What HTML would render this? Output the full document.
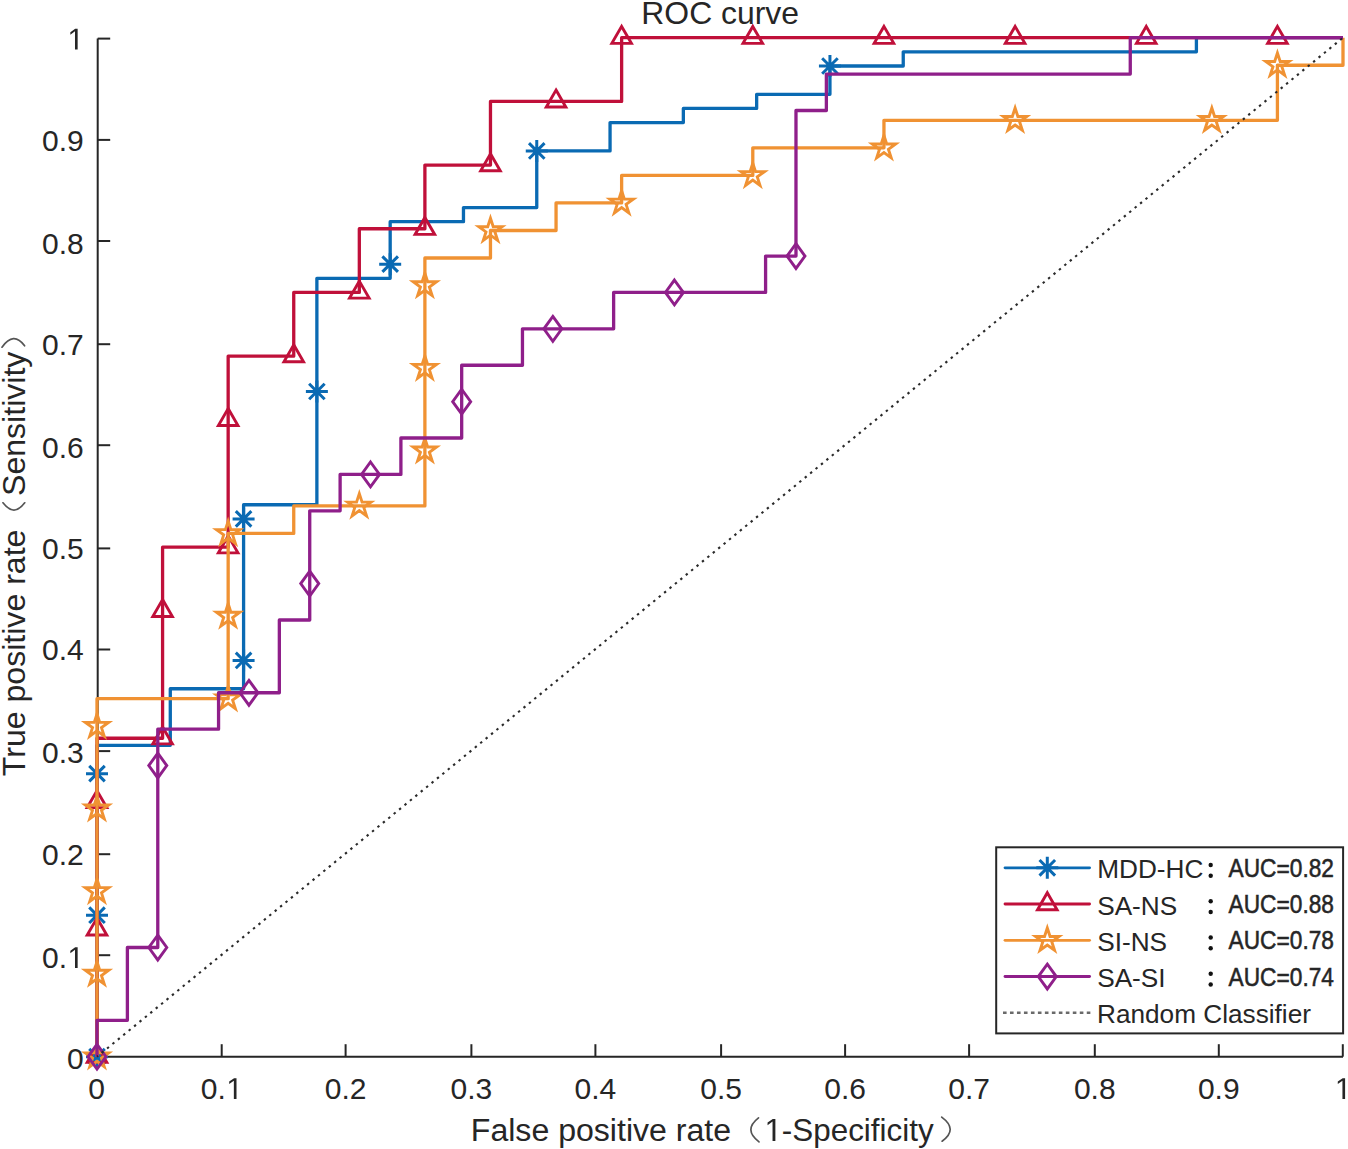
<!DOCTYPE html>
<html><head><meta charset="utf-8"><title>ROC curve</title>
<style>
html,body{margin:0;padding:0;background:#fff;}
body{width:1348px;height:1149px;overflow:hidden;}
svg{display:block;}
text{font-family:"Liberation Sans",sans-serif;fill:#262626;}
</style></head><body>
<svg width="1348" height="1149" viewBox="0 0 1348 1149">
<rect x="0" y="0" width="1348" height="1149" fill="#fff"/>
<g>

<g stroke="#262626" stroke-width="2" fill="none">
<path d="M97.7 38.6V1056.7H1343.0"/>
<path d="M97.7 955.2h12.5"/>
<path d="M97.7 854.2h12.5"/>
<path d="M97.7 751.1h12.5"/>
<path d="M97.7 649.5h12.5"/>
<path d="M97.7 548.4h12.5"/>
<path d="M97.7 445.2h12.5"/>
<path d="M97.7 344.2h12.5"/>
<path d="M97.7 241.0h12.5"/>
<path d="M97.7 139.9h12.5"/>
<path d="M97.7 38.6h12.5"/>
<path d="M221.7 1056.7v-12.5"/>
<path d="M345.6 1056.7v-12.5"/>
<path d="M471.4 1056.7v-12.5"/>
<path d="M595.4 1056.7v-12.5"/>
<path d="M721.1 1056.7v-12.5"/>
<path d="M845.1 1056.7v-12.5"/>
<path d="M969.1 1056.7v-12.5"/>
<path d="M1094.8 1056.7v-12.5"/>
<path d="M1218.8 1056.7v-12.5"/>
<path d="M1342.8 1056.7v-12.5"/>
</g>
<text x="83.7" y="1069.1" font-size="30.0" text-anchor="end">0</text>
<text x="67.02" y="967.9" font-size="30.0" text-anchor="end">0.</text>
<path d="M515 0L515 1237L197 1010L197 1180L530 1409L696 1409L696 0Z" fill="#262626" transform="translate(67.45 967.93) scale(0.01465 -0.01465)"/>
<text x="83.7" y="865.2" font-size="30.0" text-anchor="end">0.2</text>
<text x="83.7" y="763.4" font-size="30.0" text-anchor="end">0.3</text>
<text x="83.7" y="660.3" font-size="30.0" text-anchor="end">0.4</text>
<text x="83.7" y="559.3" font-size="30.0" text-anchor="end">0.5</text>
<text x="83.7" y="458.0" font-size="30.0" text-anchor="end">0.6</text>
<text x="83.7" y="354.9" font-size="30.0" text-anchor="end">0.7</text>
<text x="83.7" y="253.8" font-size="30.0" text-anchor="end">0.8</text>
<text x="83.7" y="150.7" font-size="30.0" text-anchor="end">0.9</text>
<path d="M515 0L515 1237L197 1010L197 1180L530 1409L696 1409L696 0Z" fill="#262626" transform="translate(67.45 49.48) scale(0.01465 -0.01465)"/>
<text x="96.6" y="1098.9" font-size="30.0" text-anchor="middle">0</text>
<text x="200.85" y="1098.9" font-size="30.0">0.</text>
<path d="M515 0L515 1237L197 1010L197 1180L530 1409L696 1409L696 0Z" fill="#262626" transform="translate(226.31 1098.90) scale(0.01465 -0.01465)"/>
<text x="345.6" y="1098.9" font-size="30.0" text-anchor="middle">0.2</text>
<text x="471.4" y="1098.9" font-size="30.0" text-anchor="middle">0.3</text>
<text x="595.4" y="1098.9" font-size="30.0" text-anchor="middle">0.4</text>
<text x="721.1" y="1098.9" font-size="30.0" text-anchor="middle">0.5</text>
<text x="845.1" y="1098.9" font-size="30.0" text-anchor="middle">0.6</text>
<text x="969.1" y="1098.9" font-size="30.0" text-anchor="middle">0.7</text>
<text x="1094.8" y="1098.9" font-size="30.0" text-anchor="middle">0.8</text>
<text x="1218.8" y="1098.9" font-size="30.0" text-anchor="middle">0.9</text>
<path d="M515 0L515 1237L197 1010L197 1180L530 1409L696 1409L696 0Z" fill="#262626" transform="translate(1334.90 1098.90) scale(0.01465 -0.01465)"/>
<path d="M97.00 1056.70 L97.00 745.34 L170.29 745.34 L170.29 688.73 L243.59 688.73 L243.59 504.74 L316.88 504.74 L316.88 278.30 L390.18 278.30 L390.18 221.69 L463.47 221.69 L463.47 207.53 L536.76 207.53 L536.76 150.92 L610.06 150.92 L610.06 122.62 L683.35 122.62 L683.35 108.46 L756.65 108.46 L756.65 94.31 L829.94 94.31 L829.94 66.01 L903.24 66.01 L903.24 51.85 L1196.41 51.85 L1196.41 37.70 L1343.00 37.70" stroke="#0a6ab3" stroke-width="3.3" fill="none" stroke-linejoin="round"/>
<path d="M86.00 1056.70H108.00M97.00 1045.70V1067.70M89.22 1048.92L104.78 1064.48M89.22 1064.48L104.78 1048.92" stroke="#0a6ab3" stroke-width="3.0" fill="none"/>
<path d="M86.00 915.17H108.00M97.00 904.17V926.17M89.22 907.39L104.78 922.95M89.22 922.95L104.78 907.39" stroke="#0a6ab3" stroke-width="3.0" fill="none"/>
<path d="M86.00 773.64H108.00M97.00 762.64V784.64M89.22 765.87L104.78 781.42M89.22 781.42L104.78 765.87" stroke="#0a6ab3" stroke-width="3.0" fill="none"/>
<path d="M232.59 660.42H254.59M243.59 649.42V671.42M235.81 652.64L251.37 668.20M235.81 668.20L251.37 652.64" stroke="#0a6ab3" stroke-width="3.0" fill="none"/>
<path d="M232.59 518.89H254.59M243.59 507.89V529.89M235.81 511.12L251.37 526.67M235.81 526.67L251.37 511.12" stroke="#0a6ab3" stroke-width="3.0" fill="none"/>
<path d="M305.88 391.52H327.88M316.88 380.52V402.52M309.10 383.74L324.66 399.30M309.10 399.30L324.66 383.74" stroke="#0a6ab3" stroke-width="3.0" fill="none"/>
<path d="M379.18 264.14H401.18M390.18 253.14V275.14M382.40 256.37L397.95 271.92M382.40 271.92L397.95 256.37" stroke="#0a6ab3" stroke-width="3.0" fill="none"/>
<path d="M525.76 150.92H547.76M536.76 139.92V161.92M528.99 143.14L544.54 158.70M528.99 158.70L544.54 143.14" stroke="#0a6ab3" stroke-width="3.0" fill="none"/>
<path d="M818.94 66.01H840.94M829.94 55.01V77.01M822.16 58.23L837.72 73.78M822.16 73.78L837.72 58.23" stroke="#0a6ab3" stroke-width="3.0" fill="none"/>
<path d="M97.00 1056.70 L97.00 738.26 L162.58 738.26 L162.58 547.20 L228.16 547.20 L228.16 356.14 L293.74 356.14 L293.74 292.45 L359.32 292.45 L359.32 228.76 L424.89 228.76 L424.89 165.08 L490.47 165.08 L490.47 101.39 L621.63 101.39 L621.63 37.70 L1343.00 37.70" stroke="#c0103a" stroke-width="3.3" fill="none" stroke-linejoin="round"/>
<polygon points="97.00,1045.40 106.79,1062.35 87.21,1062.35" stroke="#c0103a" stroke-width="2.9" fill="none" stroke-miterlimit="10"/>
<polygon points="97.00,918.03 106.79,934.98 87.21,934.98" stroke="#c0103a" stroke-width="2.9" fill="none" stroke-miterlimit="10"/>
<polygon points="97.00,790.65 106.79,807.60 87.21,807.60" stroke="#c0103a" stroke-width="2.9" fill="none" stroke-miterlimit="10"/>
<polygon points="162.58,726.96 172.36,743.91 152.79,743.91" stroke="#c0103a" stroke-width="2.9" fill="none" stroke-miterlimit="10"/>
<polygon points="162.58,599.59 172.36,616.54 152.79,616.54" stroke="#c0103a" stroke-width="2.9" fill="none" stroke-miterlimit="10"/>
<polygon points="228.16,535.90 237.94,552.85 218.37,552.85" stroke="#c0103a" stroke-width="2.9" fill="none" stroke-miterlimit="10"/>
<polygon points="228.16,408.53 237.94,425.48 218.37,425.48" stroke="#c0103a" stroke-width="2.9" fill="none" stroke-miterlimit="10"/>
<polygon points="293.74,344.84 303.52,361.79 283.95,361.79" stroke="#c0103a" stroke-width="2.9" fill="none" stroke-miterlimit="10"/>
<polygon points="359.32,281.15 369.10,298.10 349.53,298.10" stroke="#c0103a" stroke-width="2.9" fill="none" stroke-miterlimit="10"/>
<polygon points="424.89,217.46 434.68,234.41 415.11,234.41" stroke="#c0103a" stroke-width="2.9" fill="none" stroke-miterlimit="10"/>
<polygon points="490.47,153.78 500.26,170.73 480.69,170.73" stroke="#c0103a" stroke-width="2.9" fill="none" stroke-miterlimit="10"/>
<polygon points="556.05,90.09 565.84,107.04 546.27,107.04" stroke="#c0103a" stroke-width="2.9" fill="none" stroke-miterlimit="10"/>
<polygon points="621.63,26.40 631.42,43.35 611.85,43.35" stroke="#c0103a" stroke-width="2.9" fill="none" stroke-miterlimit="10"/>
<polygon points="752.79,26.40 762.58,43.35 743.00,43.35" stroke="#c0103a" stroke-width="2.9" fill="none" stroke-miterlimit="10"/>
<polygon points="883.95,26.40 893.73,43.35 874.16,43.35" stroke="#c0103a" stroke-width="2.9" fill="none" stroke-miterlimit="10"/>
<polygon points="1015.11,26.40 1024.89,43.35 1005.32,43.35" stroke="#c0103a" stroke-width="2.9" fill="none" stroke-miterlimit="10"/>
<polygon points="1146.26,26.40 1156.05,43.35 1136.48,43.35" stroke="#c0103a" stroke-width="2.9" fill="none" stroke-miterlimit="10"/>
<polygon points="1277.42,26.40 1287.21,43.35 1267.64,43.35" stroke="#c0103a" stroke-width="2.9" fill="none" stroke-miterlimit="10"/>
<path d="M97.00 1056.70 L97.00 698.67 L228.16 698.67 L228.16 533.43 L293.74 533.43 L293.74 505.89 L424.89 505.89 L424.89 258.02 L490.47 258.02 L490.47 230.48 L556.05 230.48 L556.05 202.94 L621.63 202.94 L621.63 175.40 L752.79 175.40 L752.79 147.86 L883.95 147.86 L883.95 120.32 L1277.42 120.32 L1277.42 65.24 L1343.00 65.24 L1343.00 37.70" stroke="#f09233" stroke-width="3.3" fill="none" stroke-linejoin="round"/>
<polygon points="97.00,1044.40 99.76,1052.90 108.70,1052.90 101.47,1058.15 104.23,1066.65 97.00,1061.40 89.77,1066.65 92.53,1058.15 85.30,1052.90 94.24,1052.90" stroke="#f09233" stroke-width="2.9" fill="none" stroke-miterlimit="10"/>
<polygon points="97.00,961.78 99.76,970.28 108.70,970.28 101.47,975.53 104.23,984.03 97.00,978.78 89.77,984.03 92.53,975.53 85.30,970.28 94.24,970.28" stroke="#f09233" stroke-width="2.9" fill="none" stroke-miterlimit="10"/>
<polygon points="97.00,879.16 99.76,887.66 108.70,887.66 101.47,892.91 104.23,901.41 97.00,896.16 89.77,901.41 92.53,892.91 85.30,887.66 94.24,887.66" stroke="#f09233" stroke-width="2.9" fill="none" stroke-miterlimit="10"/>
<polygon points="97.00,796.54 99.76,805.03 108.70,805.03 101.47,810.29 104.23,818.79 97.00,813.53 89.77,818.79 92.53,810.29 85.30,805.03 94.24,805.03" stroke="#f09233" stroke-width="2.9" fill="none" stroke-miterlimit="10"/>
<polygon points="97.00,713.91 99.76,722.41 108.70,722.41 101.47,727.67 104.23,736.16 97.00,730.91 89.77,736.16 92.53,727.67 85.30,722.41 94.24,722.41" stroke="#f09233" stroke-width="2.9" fill="none" stroke-miterlimit="10"/>
<polygon points="228.16,686.37 230.92,694.87 239.86,694.87 232.63,700.12 235.39,708.62 228.16,703.37 220.93,708.62 223.69,700.12 216.46,694.87 225.40,694.87" stroke="#f09233" stroke-width="2.9" fill="none" stroke-miterlimit="10"/>
<polygon points="228.16,603.75 230.92,612.25 239.86,612.25 232.63,617.50 235.39,626.00 228.16,620.75 220.93,626.00 223.69,617.50 216.46,612.25 225.40,612.25" stroke="#f09233" stroke-width="2.9" fill="none" stroke-miterlimit="10"/>
<polygon points="228.16,521.13 230.92,529.63 239.86,529.63 232.63,534.88 235.39,543.38 228.16,538.13 220.93,543.38 223.69,534.88 216.46,529.63 225.40,529.63" stroke="#f09233" stroke-width="2.9" fill="none" stroke-miterlimit="10"/>
<polygon points="359.32,493.59 362.08,502.09 371.01,502.09 363.78,507.34 366.55,515.84 359.32,510.59 352.09,515.84 354.85,507.34 347.62,502.09 356.55,502.09" stroke="#f09233" stroke-width="2.9" fill="none" stroke-miterlimit="10"/>
<polygon points="424.89,438.51 427.66,447.01 436.59,447.01 429.36,452.26 432.12,460.76 424.89,455.51 417.66,460.76 420.43,452.26 413.20,447.01 422.13,447.01" stroke="#f09233" stroke-width="2.9" fill="none" stroke-miterlimit="10"/>
<polygon points="424.89,355.89 427.66,364.39 436.59,364.39 429.36,369.64 432.12,378.14 424.89,372.89 417.66,378.14 420.43,369.64 413.20,364.39 422.13,364.39" stroke="#f09233" stroke-width="2.9" fill="none" stroke-miterlimit="10"/>
<polygon points="424.89,273.26 427.66,281.76 436.59,281.76 429.36,287.02 432.12,295.52 424.89,290.26 417.66,295.52 420.43,287.02 413.20,281.76 422.13,281.76" stroke="#f09233" stroke-width="2.9" fill="none" stroke-miterlimit="10"/>
<polygon points="490.47,218.18 493.24,226.68 502.17,226.68 494.94,231.94 497.70,240.43 490.47,235.18 483.24,240.43 486.01,231.94 478.78,226.68 487.71,226.68" stroke="#f09233" stroke-width="2.9" fill="none" stroke-miterlimit="10"/>
<polygon points="621.63,190.64 624.39,199.14 633.33,199.14 626.10,204.40 628.86,212.89 621.63,207.64 614.40,212.89 617.16,204.40 609.93,199.14 618.87,199.14" stroke="#f09233" stroke-width="2.9" fill="none" stroke-miterlimit="10"/>
<polygon points="752.79,163.10 755.55,171.60 764.49,171.60 757.26,176.85 760.02,185.35 752.79,180.10 745.56,185.35 748.32,176.85 741.09,171.60 750.03,171.60" stroke="#f09233" stroke-width="2.9" fill="none" stroke-miterlimit="10"/>
<polygon points="883.95,135.56 886.71,144.06 895.65,144.06 888.42,149.31 891.18,157.81 883.95,152.56 876.72,157.81 879.48,149.31 872.25,144.06 881.19,144.06" stroke="#f09233" stroke-width="2.9" fill="none" stroke-miterlimit="10"/>
<polygon points="1015.11,108.02 1017.87,116.52 1026.80,116.52 1019.57,121.77 1022.34,130.27 1015.11,125.02 1007.88,130.27 1010.64,121.77 1003.41,116.52 1012.34,116.52" stroke="#f09233" stroke-width="2.9" fill="none" stroke-miterlimit="10"/>
<polygon points="1211.84,108.02 1214.60,116.52 1223.54,116.52 1216.31,121.77 1219.07,130.27 1211.84,125.02 1204.61,130.27 1207.37,121.77 1200.14,116.52 1209.08,116.52" stroke="#f09233" stroke-width="2.9" fill="none" stroke-miterlimit="10"/>
<polygon points="1277.42,52.94 1280.18,61.44 1289.12,61.44 1281.89,66.69 1284.65,75.19 1277.42,69.94 1270.19,75.19 1272.95,66.69 1265.72,61.44 1274.66,61.44" stroke="#f09233" stroke-width="2.9" fill="none" stroke-miterlimit="10"/>
<path d="M97.00 1056.70 L97.00 1020.31 L127.39 1020.31 L127.39 947.52 L157.78 947.52 L157.78 729.16 L218.56 729.16 L218.56 692.77 L279.34 692.77 L279.34 619.99 L309.73 619.99 L309.73 510.81 L340.12 510.81 L340.12 474.41 L400.90 474.41 L400.90 438.02 L461.68 438.02 L461.68 365.24 L522.46 365.24 L522.46 328.84 L613.63 328.84 L613.63 292.45 L765.59 292.45 L765.59 256.06 L795.98 256.06 L795.98 110.49 L826.37 110.49 L826.37 74.09 L1130.27 74.09 L1130.27 37.70 L1343.00 37.70" stroke="#8f1f8a" stroke-width="3.3" fill="none" stroke-linejoin="round"/>
<polygon points="97.00,1044.30 106.00,1056.70 97.00,1069.10 88.00,1056.70" stroke="#8f1f8a" stroke-width="2.9" fill="none" stroke-miterlimit="10"/>
<polygon points="157.78,935.12 166.78,947.52 157.78,959.92 148.78,947.52" stroke="#8f1f8a" stroke-width="2.9" fill="none" stroke-miterlimit="10"/>
<polygon points="157.78,753.16 166.78,765.56 157.78,777.96 148.78,765.56" stroke="#8f1f8a" stroke-width="2.9" fill="none" stroke-miterlimit="10"/>
<polygon points="248.95,680.37 257.95,692.77 248.95,705.17 239.95,692.77" stroke="#8f1f8a" stroke-width="2.9" fill="none" stroke-miterlimit="10"/>
<polygon points="309.73,571.19 318.73,583.59 309.73,595.99 300.73,583.59" stroke="#8f1f8a" stroke-width="2.9" fill="none" stroke-miterlimit="10"/>
<polygon points="370.51,462.01 379.51,474.41 370.51,486.81 361.51,474.41" stroke="#8f1f8a" stroke-width="2.9" fill="none" stroke-miterlimit="10"/>
<polygon points="461.68,389.23 470.68,401.63 461.68,414.03 452.68,401.63" stroke="#8f1f8a" stroke-width="2.9" fill="none" stroke-miterlimit="10"/>
<polygon points="552.85,316.44 561.85,328.84 552.85,341.24 543.85,328.84" stroke="#8f1f8a" stroke-width="2.9" fill="none" stroke-miterlimit="10"/>
<polygon points="674.41,280.05 683.41,292.45 674.41,304.85 665.41,292.45" stroke="#8f1f8a" stroke-width="2.9" fill="none" stroke-miterlimit="10"/>
<polygon points="795.98,243.66 804.98,256.06 795.98,268.46 786.98,256.06" stroke="#8f1f8a" stroke-width="2.9" fill="none" stroke-miterlimit="10"/>
<path d="M97.0 1056.7L1343.0 37.7" stroke="#2a2a2a" stroke-width="2.1" stroke-dasharray="2.4 4.587" stroke-dashoffset="0.98" fill="none"/>
<text x="641.3" y="23.8" font-size="31.9">ROC curve</text>
<text x="470.8" y="1141.0" font-size="32.1">False positive rate</text>
<text x="781.85" y="1141.0" font-size="31.4">-Specificity</text>
<path d="M515 0L515 1237L197 1010L197 1180L530 1409L696 1409L696 0Z" fill="#262626" transform="translate(764.47 1141.00) scale(0.01567 -0.01567)"/>
<g stroke="#555" stroke-width="1.7" fill="none" stroke-linecap="round">
<path d="M758.5 1117.8Q743 1129.8 759 1141.9"/>
<path d="M941.7 1117.1Q958.5 1129.5 942.1 1141.2"/>
<path d="M3 502.8Q14 517.4 24.7 502.8"/>
<path d="M2 347.2Q13.6 330.8 24.6 345.8"/>
</g>
<text transform="translate(24.8 776.2) rotate(-90)" x="0" y="0" font-size="32.1">True positive rate</text>
<text transform="translate(24.8 496.0) rotate(-90)" x="0" y="0" font-size="32.1">Sensitivity</text>
<rect x="996.2" y="847.3" width="346.9" height="186.1" fill="#fff" stroke="#262626" stroke-width="2"/>
<path d="M1005 867.8H1089.6" stroke="#0a6ab3" stroke-width="2.8" stroke-linecap="round"/>
<path d="M1036.30 867.80H1058.30M1047.30 856.80V878.80M1039.52 860.02L1055.08 875.58M1039.52 875.58L1055.08 860.02" stroke="#0a6ab3" stroke-width="3.0" fill="none"/>
<text x="1097.2" y="878.4" font-size="26.2">MDD-HC</text>
<circle cx="1210.7" cy="865.0" r="2.2" fill="#111"/><circle cx="1210.7" cy="875.8" r="2.2" fill="#111"/>
<text x="1228.6" y="877.0" font-size="26.2" stroke="#262626" stroke-width="0.55" transform="translate(1228.6 0) scale(0.867 1) translate(-1228.6 0)">AUC=0.82</text>
<path d="M1005 904.0H1089.6" stroke="#c0103a" stroke-width="2.8" stroke-linecap="round"/>
<polygon points="1047.30,892.75 1057.09,909.70 1037.51,909.70" stroke="#c0103a" stroke-width="2.9" fill="none" stroke-miterlimit="10"/>
<text x="1097.2" y="914.6" font-size="26.2">SA-NS</text>
<circle cx="1210.7" cy="901.2" r="2.2" fill="#111"/><circle cx="1210.7" cy="912.0" r="2.2" fill="#111"/>
<text x="1228.6" y="913.2" font-size="26.2" stroke="#262626" stroke-width="0.55" transform="translate(1228.6 0) scale(0.867 1) translate(-1228.6 0)">AUC=0.88</text>
<path d="M1005 940.3H1089.6" stroke="#f09233" stroke-width="2.8" stroke-linecap="round"/>
<polygon points="1047.30,928.00 1050.06,936.50 1059.00,936.50 1051.77,941.75 1054.53,950.25 1047.30,945.00 1040.07,950.25 1042.83,941.75 1035.60,936.50 1044.54,936.50" stroke="#f09233" stroke-width="2.9" fill="none" stroke-miterlimit="10"/>
<text x="1097.2" y="950.9" font-size="26.2">SI-NS</text>
<circle cx="1210.7" cy="937.5" r="2.2" fill="#111"/><circle cx="1210.7" cy="948.3" r="2.2" fill="#111"/>
<text x="1228.6" y="949.5" font-size="26.2" stroke="#262626" stroke-width="0.55" transform="translate(1228.6 0) scale(0.867 1) translate(-1228.6 0)">AUC=0.78</text>
<path d="M1005 976.5H1089.6" stroke="#8f1f8a" stroke-width="2.8" stroke-linecap="round"/>
<polygon points="1047.30,964.15 1056.30,976.55 1047.30,988.95 1038.30,976.55" stroke="#8f1f8a" stroke-width="2.9" fill="none" stroke-miterlimit="10"/>
<text x="1097.2" y="987.1" font-size="26.2">SA-SI</text>
<circle cx="1210.7" cy="973.8" r="2.2" fill="#111"/><circle cx="1210.7" cy="984.5" r="2.2" fill="#111"/>
<text x="1228.6" y="985.8" font-size="26.2" stroke="#262626" stroke-width="0.55" transform="translate(1228.6 0) scale(0.867 1) translate(-1228.6 0)">AUC=0.74</text>
<path d="M1003 1012.8H1091" stroke="#6a6a6a" stroke-width="2.4" stroke-dasharray="3.6 3.38"/>
<text x="1097.0" y="1023.4" font-size="26.2">Random Classifier</text>
</g></svg></body></html>
